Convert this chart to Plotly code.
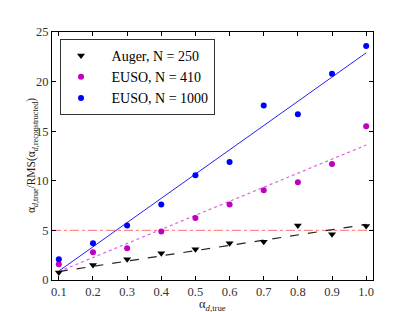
import plotly.graph_objects as go

alpha = [0.1, 0.2, 0.3, 0.4, 0.5, 0.6, 0.7, 0.8, 0.9, 1.0]
auger_250 = [0.75, 1.5, 2.1, 2.7, 3.1, 3.7, 3.85, 5.5, 4.6, 5.45]
euso_410 = [1.6, 2.8, 3.2, 4.9, 6.25, 7.6, 9.05, 9.85, 11.7, 15.5]
euso_1000 = [2.1, 3.7, 5.5, 7.6, 10.55, 11.9, 17.6, 16.7, 20.8, 23.6]

fit_x = [0.1, 1.0]
fit_auger = [0.85, 5.6]
fit_euso410 = [0.85, 13.6]
fit_euso1000 = [0.9, 22.9]
threshold_x = [0.08, 1.02]
threshold_y = [5, 5]

x_ticks = [0.1, 0.2, 0.3, 0.4, 0.5, 0.6, 0.7, 0.8, 0.9, 1.0]
y_ticks = [0, 5, 10, 15, 20, 25]

FONT = "Liberation Serif"
PAD = "\u00a0\u00a0\u00a0"

fig = go.Figure()
fig.add_trace(go.Scatter(x=threshold_x, y=threshold_y, mode="lines",
                         line=dict(color="rgba(255,60,60,0.6)", width=1.2, dash="dashdot"),
                         showlegend=False, hoverinfo="skip"))
fig.add_trace(go.Scatter(x=fit_x, y=fit_euso1000, mode="lines",
                         line=dict(color="#2020ff", width=1), showlegend=False))
fig.add_trace(go.Scatter(x=fit_x, y=fit_euso410, mode="lines",
                         line=dict(color="#e060e0", width=1.2, dash="dot"), showlegend=False))
fig.add_trace(go.Scatter(x=fit_x, y=fit_auger, mode="lines",
                         line=dict(color="#222222", width=1.2, dash="dash"), showlegend=False))

fig.add_trace(go.Scatter(x=alpha, y=auger_250, mode="markers", name=PAD + "Auger, N = 250",
                         marker=dict(symbol="triangle-down", color="black", size=7)))
fig.add_trace(go.Scatter(x=alpha, y=euso_410, mode="markers", name=PAD + "EUSO, N = 410",
                         marker=dict(symbol="circle", color="#c000c0", size=6)))
fig.add_trace(go.Scatter(x=alpha, y=euso_1000, mode="markers", name=PAD + "EUSO, N = 1000",
                         marker=dict(symbol="circle", color="#0000ff", size=6)))

axis_common = dict(showline=True, linecolor="black", linewidth=1, mirror="ticks",
                   ticks="inside", ticklen=4, tickcolor="black", showgrid=False,
                   zeroline=False, tickfont=dict(family=FONT, size=12.5, color="#333"))

fig.update_layout(
    width=415, height=312,
    margin=dict(l=44, r=50, t=24, b=40),
    paper_bgcolor="white", plot_bgcolor="white",
    font=dict(family=FONT, color="black"),
    xaxis=dict(range=[0.08, 1.02], tickvals=x_ticks,
               ticktext=[f"{v:.1f}" for v in x_ticks], **axis_common),
    yaxis=dict(range=[0, 25], tickvals=y_ticks, **axis_common),
    legend=dict(x=0.025, y=0.972, xanchor="left", yanchor="top",
                bgcolor="white", bordercolor="#333", borderwidth=1,
                font=dict(family=FONT, size=14), tracegroupgap=0,
                itemwidth=30),
    showlegend=True,
    annotations=[
        dict(text="α<sub><i>d</i>,true</sub>", xref="paper", yref="paper",
             x=0.5, y=-0.1, xanchor="center", yanchor="middle", showarrow=False,
             font=dict(family=FONT, size=12.5, color="#222")),
        dict(text="α<sub><i>d</i>,true</sub>/RMS(α<sub><i>d</i>,reconstructed</sub>)",
             xref="paper", yref="paper", x=-0.062, y=0.5, textangle=-90,
             xanchor="center", yanchor="middle", showarrow=False,
             font=dict(family=FONT, size=11.5, color="#222")),
    ],
)

fig.write_html("out.html")
